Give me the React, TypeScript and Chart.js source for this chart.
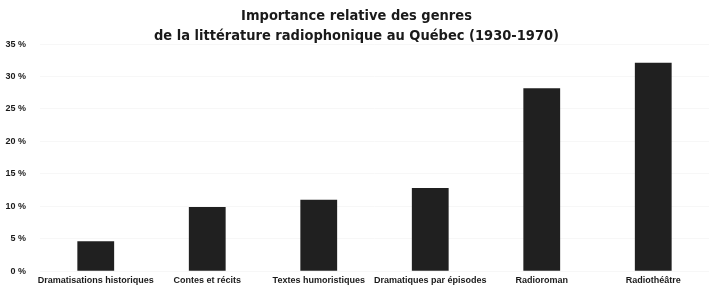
import React, { useEffect, useRef } from "react";
import { Chart, registerables } from "chart.js";

Chart.register(...registerables);

const titleLines = [
  "Importance relative des genres",
  "de la littérature radiophonique au Québec (1930-1970)",
];
const categories = [
  "Dramatisations historiques",
  "Contes et récits",
  "Textes humoristiques",
  "Dramatiques par épisodes",
  "Radioroman",
  "Radiothéâtre",
];
const values = [4.6, 9.9, 11.0, 12.8, 28.2, 32.1];
const yMin = 0;
const yMax = 35;
const yStep = 5;

export default function App() {
  const canvasRef = useRef<HTMLCanvasElement | null>(null);

  useEffect(() => {
    document.body.style.margin = "0";
    const canvas = canvasRef.current;
    if (!canvas) return;
    const chart = new Chart(canvas, {
      type: "bar",
      data: {
        labels: categories,
        datasets: [
          {
            data: values,
            backgroundColor: "#202020",
            borderWidth: 0,
            barPercentage: 0.33,
            categoryPercentage: 1,
          },
        ],
      },
      options: {
        animation: false,
        responsive: false,
        maintainAspectRatio: false,
        layout: { padding: { left: 4, right: 0, top: 0, bottom: 5 } },
        plugins: {
          legend: { display: false },
          tooltip: { enabled: false },
          title: {
            display: true,
            text: titleLines,
            color: "#1a1a1a",
            font: { family: "'DejaVu Sans Condensed', 'Liberation Sans', sans-serif", size: 14.5, weight: "bold", lineHeight: 1.38 },
            padding: { top: 6, bottom: -2 },
          },
        },
        scales: {
          x: {
            grid: { display: true, drawOnChartArea: false, drawTicks: true, tickLength: 4, color: "rgba(0,0,0,0)" },
            border: { display: false },
            ticks: {
              color: "#1a1a1a",
              font: { family: "'Liberation Sans', sans-serif", size: 9, weight: "bold" },
              padding: 0,
              maxRotation: 0,
              autoSkip: false,
            },
            afterFit: (scale: any) => {
              scale.paddingLeft = 0;
              scale.paddingRight = 0;
            },
          },
          y: {
            min: yMin,
            max: yMax,
            grid: { color: "#f7f7f7", drawTicks: false },
            border: { display: false },
            ticks: {
              stepSize: yStep,
              color: "#1a1a1a",
              font: { family: "'Liberation Sans', sans-serif", size: 9, weight: "bold" },
              padding: 14,
              callback: (v: any) => `${v} %`,
            },
            afterFit: (scale: any) => {
              scale.width = 36;
            },
          },
        },
      },
    });
    return () => chart.destroy();
  }, []);

  return (
    <div style={{ width: 709, height: 291, background: "#fff" }}>
      <canvas ref={canvasRef} width={709} height={291} style={{ display: "block" }} />
    </div>
  );
}
